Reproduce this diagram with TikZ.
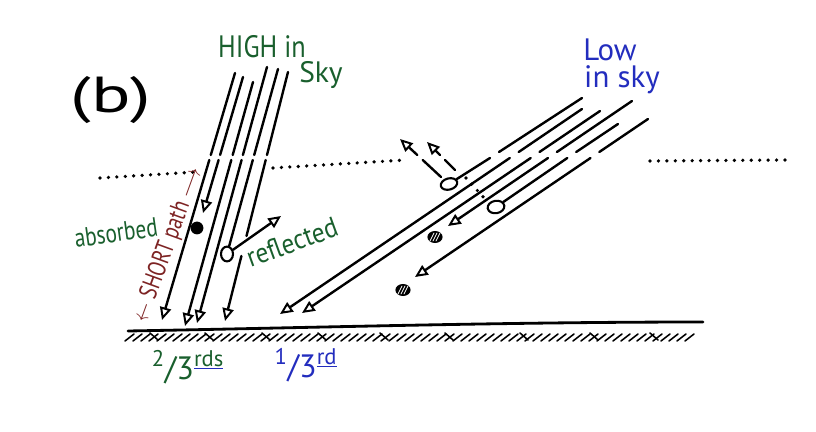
\documentclass[tikz,border=0pt]{standalone}
\usepackage{fontspec}
\setmainfont{PT Sans}
\usetikzlibrary{arrows.meta,shapes.geometric}
\definecolor{skygreen}{RGB}{25,95,45}
\definecolor{skyblue}{RGB}{35,45,190}
\definecolor{pathred}{RGB}{125,35,35}
\begin{document}
\begin{tikzpicture}[x=0.025cm, y=-0.025cm, line join=round, line cap=round,
  beam/.style={line width=1.7pt},
  tip/.style={beam, -{Triangle[open, length=9pt, width=8pt, line width=1.4pt]}},
  dots/.style={line width=2.6pt, dash pattern=on 0pt off 6pt},
  hatch/.style={line width=1.1pt},
  hand/.style={font=\fontsize{#1}{#1}\selectfont, inner sep=0pt},
  drop/.style={draw, ellipse, line width=1.5pt, inner sep=0pt},
  soot/.style={ellipse, fill=black, inner sep=0pt, path picture={\foreach \d in {-3,0,3} \draw[white, line width=0.6pt] (path picture bounding box.center) ++(\d-2,4) -- ++(4,-8);}}]
\useasboundingbox (0,0) rectangle (816,432);
\node[drop, minimum width=0.3cm, minimum height=0.37cm] (hc) at (227,254) {};
\node[drop, minimum width=0.42cm, minimum height=0.28cm, rotate=15] (c1) at (449,184) {};
\node[drop, minimum width=0.42cm, minimum height=0.31cm, rotate=10] (c2) at (496,207) {};
\node[circle, fill=black, minimum size=0.32cm, inner sep=0pt] (hdot) at (197,228) {};
\node[soot, minimum width=0.38cm, minimum height=0.3cm] (ldot1) at (435,237) {};
\node[soot, minimum width=0.38cm, minimum height=0.3cm] (ldot2) at (403,290) {};
\foreach \tx/\ty/\ax/\bx/\ex/\ey in {235/73/210.8/209.3/162/320, 253/82/232.7/231.3/185/326, 267/67/242.9/241.6/197/323, 243/77/220.1/218.6/203/213}
  \draw[tip] (\tx,\ty) -- (\ax,155) (\bx,160) -- (\ex,\ey);
\draw[beam] (278,69) -- (254.2,155) (252.8,160) -- (hc);
\draw[tip] (288,72) -- (267,155) (265.7,160) -- (246.5,236) (241.4,256) -- (225,321);
\draw[tip] (hc) -- (281,216);
\foreach \tx/\ty/\ax/\bx/\ex/\ey in {582/109/518.7/509.8/280/314, 600/111/539.5/530.7/302/313, 632/101/556.9/548/448/226, 648/119/599.3/590.5/415/277}
  \draw[tip] (\tx,\ty) -- (\ax,152) (\bx,158) -- (\ex,\ey);
\draw[beam] (582,98) -- (499,152) (490,158) -- (c1);
\draw[beam] (618,124) -- (576.2,152) (567.3,158) -- (c2);
\draw[tip] (441,177) -- (422.7,160) (417.3,155) -- (400,139);
\draw[tip] (455,170) -- (445,160) (440,155) -- (427,142);
\draw[dots] (100,178) -- (196,172);
\draw[dots] (273,168) -- (405,160);
\draw[dots] (650,161) -- (785,160);
\draw[dots] (466,178) -- (486,200);
\draw[line width=2pt] (128,331) .. controls (300,328) and (500,322) .. (703,322);
\foreach \x in {134,142,...,694} \draw[hatch] (\x,334) -- ++(-9,7);
\foreach \x in {150,205,262,318,380,445,520,590,650} \draw[hatch] (\x,333) -- ++(8,7);
\node[hand=36, xscale=1.45] (tag) at (111,100) {(b)};
\node[hand=22, xscale=0.85, skygreen] (high) at (262,47) {HIGH in};
\node[hand=21, skygreen] (sky) at (321,75) {Sky};
\node[hand=22, skyblue] (low) at (610,50) {Low};
\node[hand=22, skyblue] (insky) at (622,80) {in sky};
\node[hand=19, skygreen, rotate=8, xscale=0.8] (absorbed) at (116,233) {absorbed};
\node[hand=20, skygreen, rotate=20, xscale=0.9] (reflected) at (292,242) {reflected};
\node[hand=18, pathred, rotate=70, xscale=0.78] (short) at (168,245) {$\leftarrow$ SHORT path $\longrightarrow$};
\node[hand=23, skygreen] (twothirds) at (188,367) {\textsuperscript{2}/3\textsuperscript{\textcolor{skyblue}{\underline{\textcolor{skygreen}{rds}}}}};
\node[hand=23, skyblue] (onethird) at (306,365) {\textsuperscript{1}/3\textsuperscript{\underline{rd}}};
\end{tikzpicture}
\end{document}
